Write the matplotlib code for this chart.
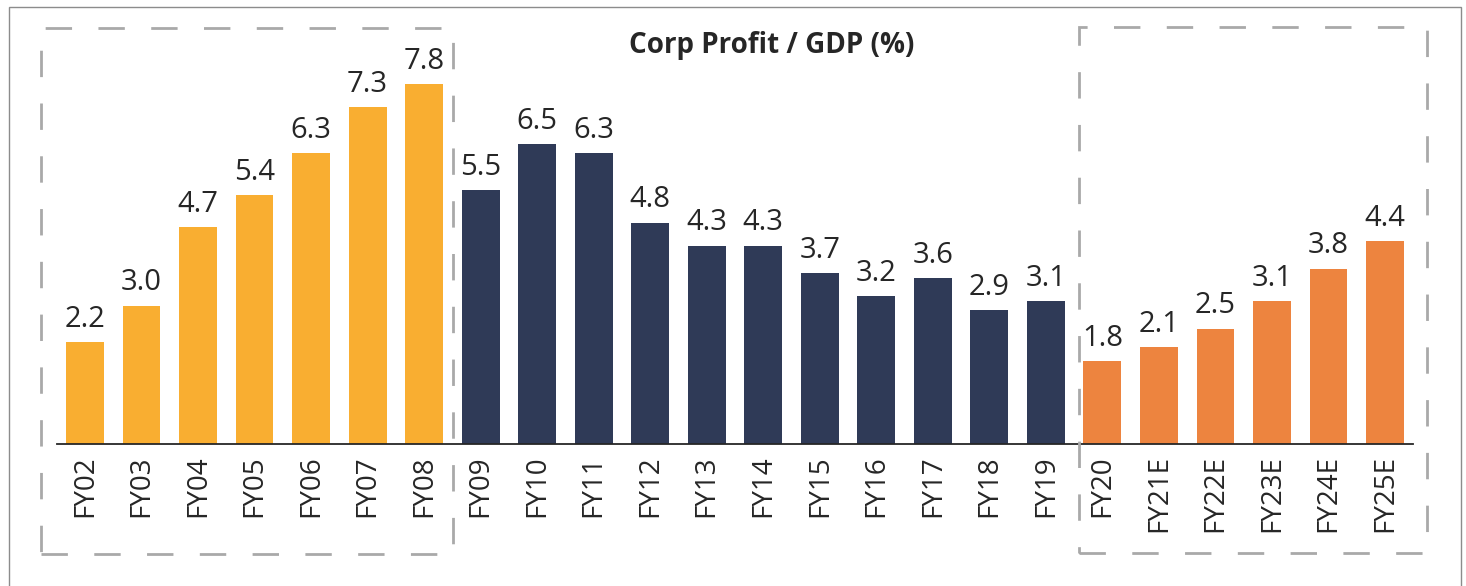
import matplotlib.pyplot as plt
from matplotlib.patches import Rectangle

plt.rcParams['font.family'] = ['Open Sans', 'DejaVu Sans']

# data
years = ["FY02", "FY03", "FY04", "FY05", "FY06", "FY07", "FY08",
         "FY09", "FY10", "FY11", "FY12", "FY13", "FY14", "FY15", "FY16",
         "FY17", "FY18", "FY19",
         "FY20", "FY21E", "FY22E", "FY23E", "FY24E", "FY25E"]
profit_gdp = [2.2, 3.0, 4.7, 5.4, 6.3, 7.3, 7.8,
              5.5, 6.5, 6.3, 4.8, 4.3, 4.3, 3.7, 3.2, 3.6, 2.9, 3.1,
              1.8, 2.1, 2.5, 3.1, 3.8, 4.4]
phase = ["boom"] * 7 + ["slump"] * 11 + ["recovery"] * 6

phase_colors = {"boom": "#F9AE31", "slump": "#2F3A57", "recovery": "#ED843F"}
colors = [phase_colors[p] for p in phase]

W, H = 1466, 586
fig = plt.figure(figsize=(W / 100, H / 100), dpi=100)
ax = fig.add_axes([56.7 / W, 1 - 444 / H, (1413.3 - 56.7) / W, (444 - 20) / H])

x = range(len(years))
bars = ax.bar(x, profit_gdp, width=0.67, color=colors)

for b, v in zip(bars, profit_gdp):
    ax.annotate(f"{v:.1f}", (b.get_x() + b.get_width() / 2, v),
                xytext=(0, 6), textcoords="offset points",
                ha="center", va="bottom", fontsize=21, color="#262626")

ax.set_xlim(-0.5, len(years) - 0.5)
ax.set_ylim(0, 9.19)
ax.set_xticks(list(x))
ax.set_xticklabels(years, rotation=90, fontsize=20, color="#262626")
ax.tick_params(axis="x", length=0, pad=8)
ax.set_yticks([])
for s in ["top", "right", "left"]:
    ax.spines[s].set_visible(False)
ax.spines["bottom"].set_color("#262626")
ax.spines["bottom"].set_linewidth(1.3)

fig.text(772 / W, 1 - 45 / H, "Corp Profit / GDP (%)", ha="center", va="center",
         fontsize=20, fontweight="bold", color="#262626")

# dashed group boxes (pixel coords)
def box(x0, y0, x1, y1):
    r = Rectangle((x0 / W, 1 - y1 / H), (x1 - x0) / W, (y1 - y0) / H,
                  transform=fig.transFigure, fill=False, edgecolor="#A9A9A9",
                  linewidth=2.0, linestyle=(0, (9.5, 9.5)))
    fig.add_artist(r)

box(41, 28, 453, 554)
box(1079, 27, 1427, 553)

# outer frame
fig.add_artist(Rectangle((8.5 / W, -0.01), (1461 - 8.5) / W, 1.01 - 6.5 / H,
                         transform=fig.transFigure, fill=False,
                         edgecolor="#8C8C8C", linewidth=1.0))

fig.savefig("out.png", dpi=100)
